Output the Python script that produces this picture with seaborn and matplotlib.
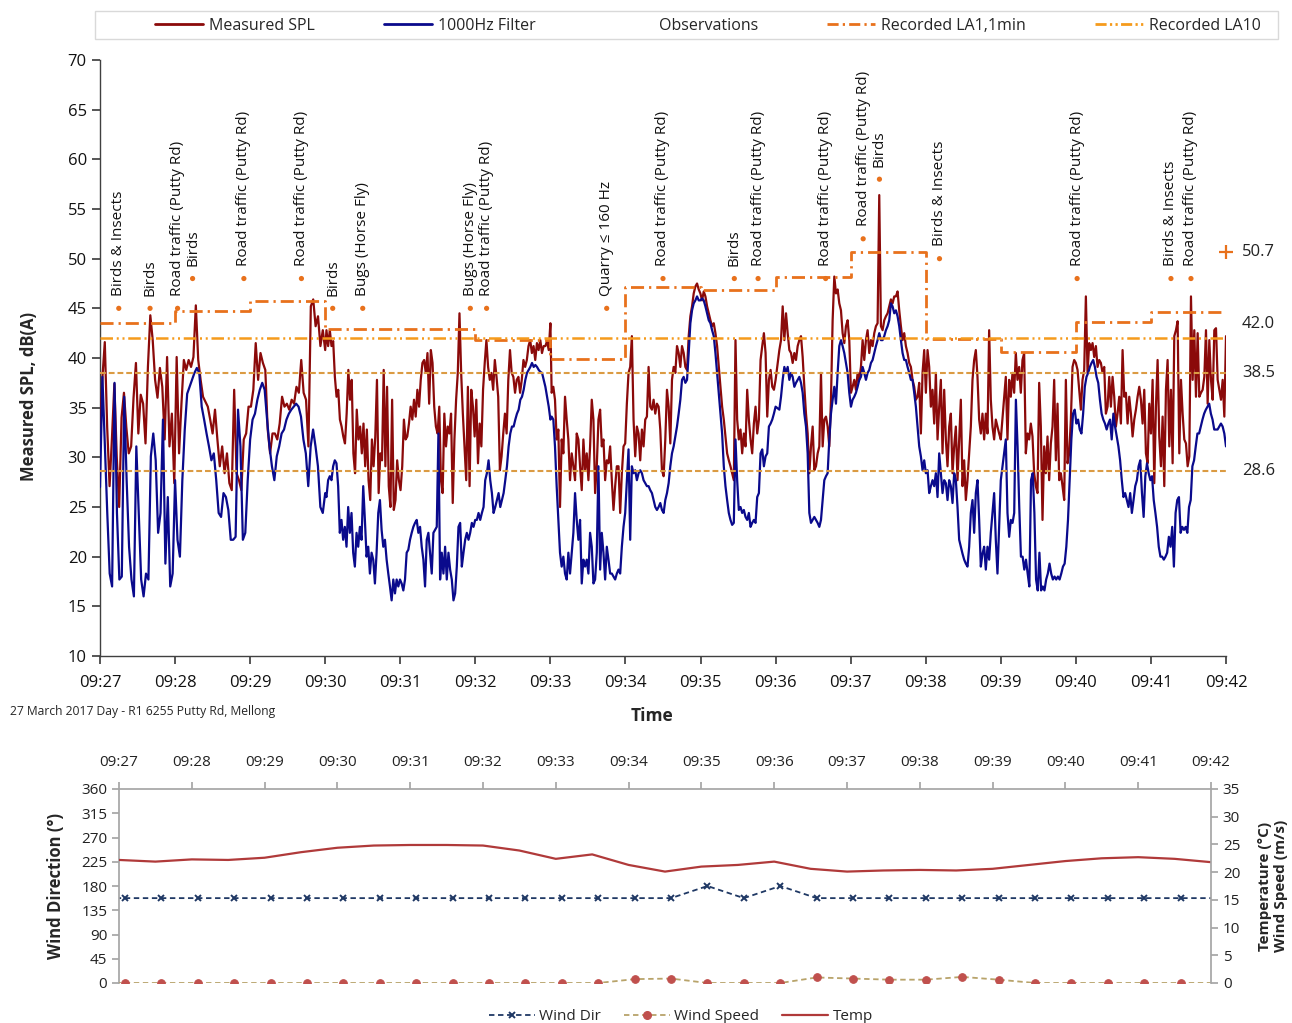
import numpy as np
import pandas as pd
import seaborn as sns
import matplotlib.pyplot as plt
from matplotlib.lines import Line2D
from matplotlib.patches import Rectangle

# ---------------- sound levels, dB(A), read off in 3-minute blocks ----------------
# every block is spread evenly over the seconds (after 09:27:00) given here
block_secs = [(0, 180), (181, 360), (361, 540), (543, 720), (724, 900)]

spl_0927 = [33.0, 38.0, 41.6, 33.0, 27.1, 32.0, 37.4, 30.0, 25.0, 34.0, 36.5, 33.0, 30.4, 31.1, 36.0, 39.5,
            32.4, 36.3, 35.4, 31.4, 39.1, 44.3, 41.8, 37.8, 36.0, 39.0, 37.1, 31.8, 40.1, 31.1, 34.4, 27.4,
            40.1, 30.4, 35.4, 39.8, 38.8, 39.8, 39.1, 40.1, 45.3, 39.8, 37.8, 36.1, 35.6, 35.1, 33.8, 32.4,
            34.8, 31.8, 29.1, 31.1, 28.4, 30.4, 27.4, 26.7, 36.8, 28.4, 27.7, 26.7, 31.8, 32.4, 35.1, 35.1,
            36.8, 41.5, 37.8, 40.5, 39.5, 38.8, 32.8, 30.4, 32.4, 32.4, 31.8, 33.4, 36.1, 35.1, 35.4, 34.8,
            35.8, 35.4, 37.1, 36.5, 39.8, 36.5, 35.8, 31.1, 45.2, 45.9, 43.2, 44.2, 41.2, 42.8, 40.8]
spl_0930 = [42.8, 41.2, 42.8, 41.2, 41.7, 38.1, 36.1, 36.8, 33.8, 33.1, 32.1, 31.4, 34.4, 38.8, 35.8, 37.8,
            30.4, 28.4, 34.8, 31.8, 33.1, 30.4, 33.4, 29.1, 32.8, 27.7, 25.7, 31.8, 29.1, 32.1, 37.8, 26.4,
            30.4, 29.7, 38.8, 29.1, 37.1, 27.1, 25.0, 35.8, 24.7, 25.7, 29.7, 27.7, 26.7, 29.1, 33.8, 31.8,
            32.1, 33.4, 35.1, 33.8, 35.8, 34.1, 36.8, 35.1, 37.8, 39.5, 39.8, 38.5, 40.5, 35.4, 40.8, 39.5,
            35.1, 33.1, 32.4, 35.1, 27.7, 26.4, 34.4, 31.1, 33.1, 32.4, 34.4, 25.4, 31.8, 35.8, 38.5, 44.5,
            38.5, 34.4, 31.1, 27.7, 37.1, 27.1, 36.8, 35.1, 32.1, 35.8, 29.4, 33.4, 31.1, 36.8, 39.5, 41.8,
            39.1, 37.8, 38.5, 36.8, 39.8, 38.1, 36.1, 28.7, 30.1, 32.4, 34.4, 32.4, 37.8, 40.8, 38.5, 38.1,
            36.5, 37.8, 38.1, 36.5, 37.8, 39.8, 39.1, 39.8, 41.2, 41.8, 40.5, 41.2, 39.8, 41.5, 40.8, 41.8,
            40.5, 41.2, 41.2, 41.7, 40.8, 43.5]
spl_0933 = [36.5, 37.1, 35.8, 31.8, 32.8, 25.0, 31.8, 30.4, 36.1, 33.8, 31.8, 27.7, 30.4, 29.1, 27.7, 32.4,
            31.8, 29.1, 26.7, 31.8, 28.7, 30.4, 27.7, 31.1, 35.8, 33.8, 26.4, 29.1, 33.8, 34.8, 31.1, 31.8,
            27.7, 29.7, 29.4, 31.1, 27.7, 24.7, 27.1, 29.1, 29.1, 24.4, 28.4, 31.1, 31.4, 35.4, 38.5, 39.1,
            42.2, 33.8, 30.1, 33.1, 32.4, 29.7, 32.8, 31.1, 33.8, 34.1, 39.1, 35.1, 34.8, 35.8, 34.4, 35.4,
            35.1, 32.8, 28.7, 28.1, 31.8, 36.8, 35.1, 31.4, 37.8, 39.1, 38.5, 41.2, 40.5, 39.1, 41.2, 40.5,
            39.1, 38.8, 42.2, 44.2, 45.2, 46.5, 47.2, 47.5, 46.9, 46.5, 45.8, 46.7, 46.2, 45.2, 44.5, 43.8,
            43.2, 43.5, 42.5, 41.2, 39.1, 37.1, 35.1, 33.8, 32.1, 30.4, 29.7, 29.1, 28.4, 27.7, 41.8, 33.8,
            31.8, 32.8, 30.4, 32.4, 31.1, 36.8, 33.8, 31.8, 30.4, 33.4, 35.1, 32.4, 33.8, 39.8, 41.2, 42.5,
            40.5, 34.1, 37.8, 38.8, 37.1, 36.8, 37.8]
spl_0936 = [40.8, 41.8, 45.2, 41.8, 44.5, 42.5, 40.8, 40.5, 39.5, 40.5, 39.8, 41.2, 41.8, 42.2, 40.1, 37.1,
            34.4, 32.4, 28.4, 31.1, 33.1, 28.7, 29.1, 30.4, 31.1, 38.5, 31.1, 33.8, 34.1, 33.1, 31.1, 35.8,
            43.8, 48.2, 46.5, 46.9, 45.5, 44.8, 42.5, 41.5, 43.2, 43.8, 41.8, 36.5, 37.1, 37.8, 36.8, 38.5,
            37.8, 39.1, 41.8, 39.8, 41.8, 42.8, 40.5, 41.8, 41.2, 42.5, 43.2, 43.5, 56.4, 43.2, 42.8, 43.8,
            44.2, 44.5, 45.2, 45.9, 45.5, 46.2, 46.2, 46.7, 44.8, 43.2, 41.8, 42.5, 41.2, 40.5, 39.5, 39.1,
            37.8, 37.1, 35.8, 36.1, 37.5, 32.4, 38.5, 40.8, 36.5, 40.8, 39.1, 35.1, 36.8, 33.4, 38.5, 31.8,
            35.1, 37.8, 30.4, 36.8, 31.8, 29.1, 33.1, 34.4, 28.4, 31.1, 33.1, 27.7, 31.8, 35.8, 27.1, 29.7,
            25.7, 27.7, 30.4, 33.1, 37.8, 39.8, 40.8, 38.1, 33.8, 32.4, 34.4, 31.8, 34.4, 32.4, 42.8, 35.8,
            33.1, 31.8, 33.8, 33.1, 32.4, 31.8]
spl_0939 = [38.1, 31.8, 37.8, 36.1, 38.5, 36.5, 40.5, 37.8, 39.1, 36.5, 39.8, 40.5, 30.4, 32.4, 31.8, 33.4,
            32.1, 28.4, 27.1, 26.4, 37.5, 33.1, 23.7, 31.1, 28.4, 32.1, 27.7, 31.4, 33.1, 37.8, 29.7, 35.4,
            27.7, 28.4, 27.1, 25.7, 37.8, 29.4, 30.4, 33.8, 39.1, 39.8, 39.5, 38.8, 36.8, 34.8, 37.8, 38.8,
            46.2, 38.5, 41.5, 40.8, 41.5, 40.1, 41.2, 39.1, 39.8, 39.5, 38.5, 39.1, 34.4, 35.1, 38.1, 35.1,
            38.1, 36.1, 33.1, 34.4, 36.1, 33.4, 40.8, 36.1, 36.5, 33.4, 36.1, 34.4, 32.1, 33.8, 34.8, 36.1,
            37.1, 35.8, 33.4, 36.8, 30.4, 29.4, 35.4, 32.4, 37.8, 27.4, 35.1, 39.8, 32.1, 29.1, 34.1, 27.1,
            36.8, 39.8, 31.1, 36.8, 29.4, 42.2, 42.8, 43.7, 30.4, 37.8, 34.4, 31.8, 31.4, 29.1, 30.1, 46.2,
            37.8, 42.8, 36.1, 42.5, 36.1, 36.5, 36.8, 38.1, 42.8, 35.4, 41.8, 37.8, 35.8, 42.8, 43.0, 37.8,
            36.8, 35.8, 37.8, 34.1, 42.2]

filt_0927 = [27.0, 38.1, 31.1, 24.4, 18.3, 17.0, 37.5, 24.4, 17.7, 18.0, 36.1, 27.7, 21.0, 17.7, 16.0, 31.1,
             24.4, 17.7, 16.0, 18.3, 17.7, 30.1, 32.4, 29.7, 22.4, 24.4, 33.8, 19.3, 26.0, 17.0, 18.3, 27.7,
             21.7, 20.0, 27.7, 32.8, 36.4, 37.1, 37.8, 38.5, 39.0, 38.5, 35.1, 33.8, 32.4, 31.1, 29.7, 30.4,
             27.7, 24.4, 24.0, 26.4, 26.0, 24.7, 21.7, 21.7, 22.0, 34.8, 31.1, 21.7, 22.4, 27.7, 31.8, 33.8,
             34.4, 35.8, 36.8, 37.5, 36.8, 33.8, 31.1, 29.1, 27.7, 30.1, 31.1, 32.4, 32.8, 33.8, 34.4, 34.8,
             35.1, 35.4, 35.1, 34.1, 31.8, 30.4, 27.1, 31.1, 32.8, 31.1, 29.1, 25.0, 24.4, 26.4]
filt_0930 = [26.0, 27.7, 28.1, 27.7, 29.1, 29.7, 29.4, 27.1, 22.4, 23.7, 21.7, 23.0, 21.0, 25.0, 22.4, 24.4,
             20.4, 19.0, 22.4, 21.0, 23.0, 21.7, 27.1, 23.7, 20.0, 21.0, 18.3, 20.4, 19.7, 17.3, 20.4, 24.4,
             25.7, 22.7, 21.0, 21.7, 19.7, 18.3, 17.0, 15.6, 17.7, 16.3, 17.7, 17.0, 17.7, 17.3, 16.6, 17.7,
             20.4, 20.7, 21.7, 22.4, 23.0, 23.4, 23.7, 22.4, 23.0, 21.0, 19.7, 17.0, 21.7, 22.4, 20.4, 18.3,
             22.4, 22.7, 23.0, 32.4, 17.7, 20.4, 18.3, 21.0, 17.7, 20.4, 18.7, 17.7, 15.6, 16.3, 19.0, 23.0,
             23.4, 19.0, 20.4, 21.7, 22.4, 21.7, 22.4, 23.4, 23.0, 23.7, 23.7, 24.4, 23.7, 24.4, 25.0, 27.7,
             28.4, 29.7, 27.7, 26.4, 24.4, 25.0, 25.7, 26.4, 25.0, 25.7, 26.4, 27.7, 29.1, 31.1, 32.4, 33.1,
             33.1, 33.8, 34.4, 34.8, 35.8, 36.1, 36.8, 37.8, 38.5, 38.8, 39.1, 39.5, 39.1, 39.3, 39.1, 38.8,
             38.6, 38.5, 37.8, 37.1, 36.1, 35.1, 33.8]
filt_0933 = [34.1, 33.8, 31.1, 27.1, 23.7, 20.4, 19.0, 20.0, 18.3, 17.7, 20.4, 18.3, 20.4, 22.4, 26.4, 23.7,
             21.7, 23.7, 17.3, 19.7, 19.0, 19.7, 18.3, 22.4, 21.0, 17.3, 17.7, 20.4, 29.1, 18.7, 22.4, 20.4,
             17.7, 21.0, 19.7, 18.3, 18.3, 18.0, 17.7, 18.3, 18.7, 18.3, 21.0, 23.0, 24.4, 27.7, 30.8, 21.7,
             29.1, 28.4, 28.7, 27.7, 28.4, 28.7, 28.4, 27.7, 27.4, 27.1, 27.1, 26.7, 26.4, 25.7, 25.0, 24.7,
             25.0, 25.4, 24.7, 24.4, 25.7, 26.4, 27.4, 29.1, 30.4, 31.1, 32.1, 33.1, 34.4, 35.8, 37.8, 38.1,
             37.5, 37.8, 40.5, 43.5, 44.8, 45.5, 45.8, 46.2, 45.8, 45.8, 46.0, 45.8, 45.2, 44.5, 43.8, 43.5,
             42.8, 42.2, 40.5, 38.5, 36.5, 34.4, 32.4, 29.1, 27.1, 25.7, 24.4, 23.7, 23.2, 23.4, 31.8, 27.7,
             24.7, 25.0, 24.4, 24.7, 24.0, 23.7, 24.4, 23.0, 23.4, 23.7, 23.4, 26.0, 26.4, 30.4, 30.8, 29.1,
             30.1, 30.4, 33.1, 33.4, 33.8, 34.4, 35.1]
filt_0936 = [34.8, 36.1, 37.8, 39.1, 38.5, 39.1, 37.8, 38.5, 38.1, 37.1, 37.5, 37.8, 38.1, 37.5, 36.5, 34.4,
             33.1, 30.4, 24.4, 23.4, 23.7, 24.0, 23.7, 23.4, 23.0, 23.7, 25.7, 27.7, 28.1, 28.4, 31.8, 34.4,
             35.8, 37.1, 35.4, 38.5, 41.2, 41.8, 41.2, 40.5, 39.5, 38.5, 36.5, 35.1, 35.8, 36.1, 36.5, 37.1,
             37.8, 38.1, 39.1, 38.5, 37.8, 38.5, 38.8, 39.5, 39.8, 40.5, 41.2, 41.8, 42.5, 41.8, 41.8, 42.2,
             42.8, 43.2, 43.8, 45.5, 45.2, 44.5, 44.8, 44.2, 43.2, 41.8, 40.5, 39.8, 39.8, 39.1, 38.5, 37.8,
             37.8, 36.5, 35.1, 33.1, 31.1, 30.1, 28.7, 29.7, 28.4, 28.7, 26.4, 27.1, 27.7, 27.1, 28.4, 26.0,
             30.4, 28.4, 26.4, 27.7, 27.4, 25.7, 27.7, 27.1, 25.4, 28.4, 27.7, 25.0, 21.7, 21.0, 20.3, 19.7,
             19.3, 19.0, 21.0, 24.4, 25.7, 22.4, 26.4, 27.7, 23.7, 19.0, 20.3, 21.0, 18.7, 21.0, 19.7, 22.4,
             24.4, 26.4, 21.7, 18.3, 23.0, 27.7]
filt_0939 = [31.8, 24.4, 22.0, 23.7, 23.4, 24.4, 35.8, 31.1, 25.0, 20.0, 20.0, 18.7, 19.7, 18.3, 17.0, 27.7,
             28.4, 24.4, 17.7, 16.6, 20.4, 16.6, 17.0, 16.6, 17.7, 18.3, 19.3, 18.3, 17.7, 18.0, 17.7, 18.0,
             17.7, 18.3, 19.0, 19.3, 21.0, 23.7, 27.7, 31.8, 34.4, 34.8, 33.4, 33.8, 32.8, 32.4, 34.4, 37.1,
             38.1, 38.5, 39.1, 39.5, 39.8, 39.1, 38.1, 37.5, 35.8, 34.4, 33.8, 33.4, 32.8, 33.4, 33.8, 31.8,
             34.4, 33.1, 32.1, 31.1, 29.7, 27.7, 26.0, 26.4, 25.7, 25.0, 26.4, 24.4, 25.7, 27.1, 27.7, 29.1,
             29.7, 26.4, 24.0, 28.1, 29.4, 28.4, 27.7, 28.1, 25.7, 24.4, 23.0, 21.0, 20.0, 20.0, 19.7, 20.0,
             20.4, 22.0, 21.0, 23.0, 19.0, 24.4, 25.7, 26.0, 22.4, 23.0, 22.7, 23.0, 22.4, 25.0, 25.7, 29.1,
             29.7, 31.1, 32.4, 32.4, 33.1, 33.8, 34.4, 34.8, 35.1, 35.4, 34.4, 33.8, 32.8, 32.8, 32.8, 33.1,
             33.4, 33.1, 32.4, 31.1]

# ---------------- reference levels ----------------
minute_labels = ["09:27", "09:28", "09:29", "09:30", "09:31", "09:32", "09:33", "09:34",
                 "09:35", "09:36", "09:37", "09:38", "09:39", "09:40", "09:41", "09:42"]
la1_1min = [43.5, 44.7, 45.7, 42.9, 42.9, 41.8, 39.9, 47.1, 46.8, 48.2, 50.7, 41.9, 40.6, 43.6, 44.6]
la10 = 42.0
background_levels = [38.5, 28.6]
side_values = ["50.7", "42.0", "38.5", "28.6"]
side_heights = [50.7, 43.4, 38.5, 28.6]

# ---------------- observations ----------------
obs_sec = [15, 40, 62, 74, 115, 161, 186, 210, 296, 309, 405, 450, 507, 526, 580, 610, 623, 671, 781, 856, 872]
obs_level = [45, 45, 45, 48, 48, 48, 45, 45, 45, 45, 45, 48, 48, 48, 48, 52, 58, 50, 48, 48, 48]
obs_text = ["Birds & Insects", "Birds", "Road traffic (Putty Rd)", "Birds", "Road traffic (Putty Rd)",
            "Road traffic (Putty Rd)", "Birds", "Bugs (Horse Fly)", "Bugs (Horse Fly)",
            "Road traffic (Putty Rd)", "Quarry \u2264 160 Hz", "Road traffic (Putty Rd)", "Birds",
            "Road traffic (Putty Rd)", "Road traffic (Putty Rd)", "Road traffic (Putty Rd)", "Birds",
            "Birds & Insects", "Road traffic (Putty Rd)", "Birds & Insects", "Road traffic (Putty Rd)"]

# ---------------- weather ----------------
# 30 s readings from 09:26:35 to 09:42:05
wind_dir = [157.5, 157.5, 157.5, 157.5, 157.5, 157.5, 157.5, 157.5, 157.5, 157.5, 157.5, 157.5, 157.5, 157.5,
            157.5, 157.5, 157.5, 180.0, 157.5, 180.0, 157.5, 157.5, 157.5, 157.5, 157.5, 157.5, 157.5, 157.5,
            157.5, 157.5, 157.5, 157.5]
wind_speed = [0, 0, 0, 0, 0, 0, 0, 0, 0, 0, 0, 0, 0, 0, 0, 0.7, 0.8, 0, 0, 0, 1.0, 0.8, 0.6, 0.6, 1.1, 0.6,
              0, 0, 0, 0, 0, 0]
# 30 s readings from 09:27:00 to 09:42:00
temp = [22.2, 21.9, 22.3, 22.2, 22.6, 23.6, 24.4, 24.8, 24.9, 24.9, 24.8, 23.9, 22.4, 23.2, 21.3, 20.1,
        21.0, 21.3, 21.9, 20.6, 20.1, 20.3, 20.4, 20.3, 20.6, 21.3, 22.0, 22.5, 22.7, 22.4, 21.8]


def build(blocks):
    parts = []
    for vals, (t0, t1) in zip(blocks, block_secs):
        parts.append(pd.DataFrame({"minute": np.linspace(t0, t1, len(vals)) / 60.0, "level": vals}))
    return pd.concat(parts, ignore_index=True)


spl = build([spl_0927, spl_0930, spl_0933, spl_0936, spl_0939])
filt = build([filt_0927, filt_0930, filt_0933, filt_0936, filt_0939])
wind_min = (np.arange(len(wind_dir)) * 30 - 25) / 60.0
temp_min = np.arange(len(temp)) * 30 / 60.0

sns.set_theme(style="ticks")
plt.rcParams["font.family"] = ["Open Sans", "DejaVu Sans"]

W, H = 1292, 1023
fig = plt.figure(figsize=(W / 100, H / 100), dpi=100)

c_spl, c_filt = "#8B0A0A", "#0A0A8C"
c_la1, c_la10, c_bg = "#E8711C", "#F59B1C", "#DB9B43"
axis_col = "#404040"

# ---------------- main noise chart ----------------
ax = fig.add_axes([100 / W, 1 - 656 / H, 1126 / W, 596 / H])
sns.lineplot(data=spl, x="minute", y="level", ax=ax, color=c_spl, lw=1.6, estimator=None, zorder=3)
sns.lineplot(data=filt, x="minute", y="level", ax=ax, color=c_filt, lw=1.6, estimator=None, zorder=4)

ax.step(np.arange(16), la1_1min + [la1_1min[-1]], where="post", color=c_la1, lw=2.0,
        dashes=(4.7, 1.8, 0.8, 1.8), zorder=5)
ax.plot([0, 15], [la10, la10], color=c_la10, lw=1.8, dashes=(5, 1.5, 0.8, 1.5, 0.8, 1.5), zorder=5)
for lvl in background_levels:
    ax.plot([0, 15], [lvl, lvl], color=c_bg, lw=1.5, dashes=(2.8, 1.4), zorder=5)

obs_min = np.array(obs_sec) / 60.0
sns.scatterplot(x=obs_min, y=obs_level, ax=ax, color=c_la1, s=14, edgecolor="none", zorder=6)
for xm, yl, txt in zip(obs_min, obs_level, obs_text):
    ax.annotate(txt, (xm, yl), xytext=(0, 9), textcoords="offset points", rotation=90,
                ha="center", va="bottom", fontsize=11, color="#111111")

ax.plot([15], [la1_1min[10]], marker="+", color=c_la1, ms=10, mew=1.6, clip_on=False, zorder=7)
for txt, yv in zip(side_values, side_heights):
    ax.text(15.21, yv, txt, fontsize=12, va="center", ha="left", color="#222222")

ax.set_xlim(0, 15)
ax.set_ylim(10, 70)
ax.set_xticks(range(16))
ax.set_xticklabels(minute_labels)
ax.set_yticks(range(10, 75, 5))
ax.tick_params(axis="both", labelsize=12, direction="out", length=6, color=axis_col, labelcolor="#111111")
ax.tick_params(axis="x", pad=8)
for side in ["top", "right"]:
    ax.spines[side].set_visible(False)
for side in ["left", "bottom"]:
    ax.spines[side].set_color(axis_col)
    ax.spines[side].set_linewidth(1.0)
ax.set_xlabel("Time", fontsize=12.5, fontweight="bold")
ax.set_ylabel("Measured SPL, dB(A)", fontsize=12, fontweight="bold")
ax.xaxis.set_label_coords(0.49, -0.086)
ax.yaxis.set_label_coords(-0.055, 0.436)

# legend strip across the top, with its own light frame
fig.patches.append(Rectangle((95 / W, 1 - 39 / H), 1183 / W, 28 / H, transform=fig.transFigure,
                             facecolor="white", edgecolor="#D9D9D9", lw=1.0, zorder=0))
handles = [Line2D([], [], color=c_spl, lw=2),
           Line2D([], [], color=c_filt, lw=2),
           Line2D([], [], linestyle="none"),
           Line2D([], [], color=c_la1, lw=2, dashes=(4, 1.5, 0.8, 1.5)),
           Line2D([], [], color=c_la10, lw=2, dashes=(4, 1.2, 0.8, 1.2, 0.8, 1.2))]
labels = ["Measured SPL", "1000Hz Filter", "Observations", "Recorded LA1,1min", "Recorded LA10"]
fig.legend(handles, labels, loc="center", ncol=5, bbox_to_anchor=(708 / W, 1 - 26 / H),
           fontsize=11.5, frameon=False, handlelength=3.0, handletextpad=0.4, columnspacing=4.3)

fig.text(10 / W, 1 - 712 / H, "27 March 2017 Day - R1 6255 Putty Rd, Mellong", fontsize=8.7, va="center")

# ---------------- weather chart ----------------
bx = fig.add_axes([119 / W, 1 - 983 / H, 1092 / W, 194 / H])
bx2 = bx.twinx()
c_dir, c_spd, c_spd_mk, c_temp = "#1F3864", "#B8A36A", "#C0504D", "#B03A3A"
grid_col = "#A6A6A6"

sns.lineplot(x=wind_min, y=wind_dir, ax=bx, color=c_dir, lw=1.3, dashes=(3, 2), marker="x",
             markersize=5, markeredgewidth=1.4, markeredgecolor=c_dir, estimator=None)
sns.lineplot(x=wind_min, y=wind_speed, ax=bx2, color=c_spd, lw=1.3, dashes=(3, 2), marker="o",
             markersize=5.5, markerfacecolor=c_spd_mk, markeredgecolor=c_spd_mk, estimator=None)
sns.lineplot(x=temp_min, y=temp, ax=bx2, color=c_temp, lw=1.6, estimator=None)

bx.set_xlim(0, 15)
bx.set_ylim(0, 360)
bx2.set_ylim(0, 35)
bx.set_yticks(range(0, 361, 45))
bx2.set_yticks(range(0, 36, 5))
bx.xaxis.tick_top()
bx.set_xticks(range(16))
bx.set_xticklabels(minute_labels)
bx.tick_params(axis="both", labelsize=11, direction="out", length=5, color=grid_col, labelcolor="#222222")
bx.tick_params(axis="x", pad=9)
bx2.tick_params(axis="y", labelsize=11, direction="out", length=5, color=grid_col, labelcolor="#222222")
bx.set_xlabel("")
for a in (bx, bx2):
    for side in a.spines:
        a.spines[side].set_color(grid_col)
    a.spines["bottom"].set_visible(False)
bx.spines["right"].set_visible(False)
bx2.spines["top"].set_visible(False)
bx2.spines["left"].set_visible(False)

bx.set_ylabel("Wind Direction (\u00b0)", fontsize=12, fontweight="bold")
bx.yaxis.set_label_coords(-0.0495, 0.5)
bx2.set_ylabel("")
fig.text(1273 / W, 1 - 886 / H, "Temperature (\u00b0C)\nWind Speed (m/s)", fontsize=11, fontweight="bold",
         rotation=90, ha="center", va="center", linespacing=1.1)

w_handles = [Line2D([], [], color=c_dir, lw=1.3, dashes=(3, 2), marker="x", markersize=5,
                    markeredgewidth=1.4),
             Line2D([], [], color=c_spd, lw=1.3, dashes=(3, 2), marker="o", markersize=5.5,
                    markerfacecolor=c_spd_mk, markeredgecolor=c_spd_mk),
             Line2D([], [], color=c_temp, lw=1.6)]
fig.legend(w_handles, ["Wind Dir", "Wind Speed", "Temp"], loc="center", ncol=3,
           bbox_to_anchor=(0.527, 0.006), frameon=False, fontsize=11, handlelength=3.0,
           handletextpad=0.3, columnspacing=1.5)

fig.savefig("out.png", dpi=100)
plt.close(fig)
